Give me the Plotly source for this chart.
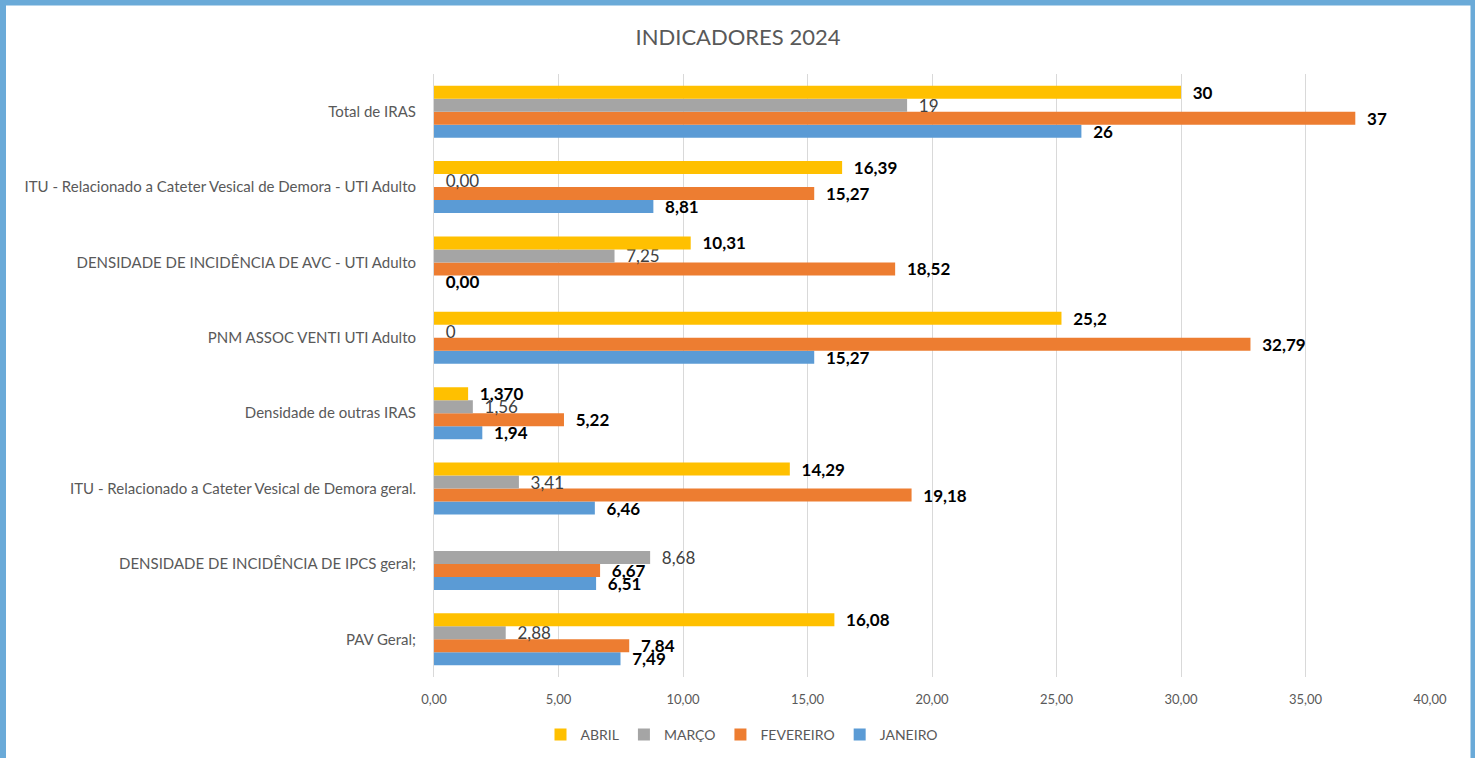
import plotly.graph_objects as go

categories = [
    "Total de IRAS",
    "ITU - Relacionado a Cateter Vesical de Demora - UTI Adulto",
    "DENSIDADE DE INCIDÊNCIA DE AVC - UTI Adulto",
    "PNM ASSOC VENTI UTI Adulto",
    "Densidade de outras IRAS",
    "ITU - Relacionado a Cateter Vesical de Demora geral.",
    "DENSIDADE DE INCIDÊNCIA DE IPCS geral;",
    "PAV Geral;",
]

abril = [30, 16.39, 10.31, 25.2, 1.370, 14.29, None, 16.08]
abril_lbl = ["30", "16,39", "10,31", "25,2", "1,370", "14,29", "", "16,08"]
marco = [19, 0.00, 7.25, 0, 1.56, 3.41, 8.68, 2.88]
marco_lbl = ["19", "0,00", "7,25", "0", "1,56", "3,41", "8,68", "2,88"]
fevereiro = [37, 15.27, 18.52, 32.79, 5.22, 19.18, 6.67, 7.84]
fevereiro_lbl = ["37", "15,27", "18,52", "32,79", "5,22", "19,18", "6,67", "7,84"]
janeiro = [26, 8.81, 0.00, 15.27, 1.94, 6.46, 6.51, 7.49]
janeiro_lbl = ["26", "8,81", "0,00", "15,27", "1,94", "6,46", "6,51", "7,49"]

W, H = 1475, 758
ML, MR, MT, MB = 434, 45, 74, 81
PW, PH = W - ML - MR, H - MT - MB

def px(x):
    return (x - ML) / PW

def py(y):
    return (H - MB - y) / PH

FONT = "Lato, Carlito, Calibri, sans-serif"
PAD = "\u00a0\u00a0"

series = [
    ("JANEIRO", janeiro, janeiro_lbl, "#5B9BD5", True),
    ("FEVEREIRO", fevereiro, fevereiro_lbl, "#ED7D31", True),
    ("MARÇO", marco, marco_lbl, "#A5A5A5", False),
    ("ABRIL", abril, abril_lbl, "#FFC000", True),
]

fig = go.Figure()
for name, vals, lbls, color, bold in series:
    fig.add_trace(go.Bar(
        name=name, y=categories, x=vals, orientation="h",
        marker=dict(color=color, line=dict(width=0)),
        text=[(PAD + (f"<b>{t}</b>" if bold else t)) if t else "" for t in lbls],
        textposition="outside", cliponaxis=False, constraintext="none",
        textfont=dict(family=FONT, size=17, color="#000000" if bold else "#404040"),
        hoverinfo="x+y",
    ))

fig.update_layout(
    width=W, height=H,
    margin=dict(l=ML, r=MR, t=MT, b=MB, autoexpand=False),
    barmode="group", bargap=0.31, bargroupgap=0,
    separators=",.",
    paper_bgcolor="white", plot_bgcolor="white",
    font=dict(family=FONT, color="#595959"),
    title=dict(text="INDICADORES 2024", x=738 / W, xref="container", y=1 - 37 / H,
               yref="container", yanchor="middle", xanchor="center",
               font=dict(size=22, color="#595959", family=FONT)),
    xaxis=dict(range=[0, 40], dtick=5, tickformat=".2f", showgrid=True, automargin=False,
               gridcolor="#D9D9D9", gridwidth=1, zeroline=False, showline=False,
               ticks="", tickfont=dict(size=13, color="#595959"), ticklabelstandoff=13),
    yaxis=dict(categoryorder="array", categoryarray=categories[::-1], automargin=False,
               showline=True, linecolor="#D9D9D9", linewidth=1, ticks="",
               tickfont=dict(size=15, color="#595959"), ticklabelstandoff=14),
    legend=dict(orientation="h", x=px(742), xanchor="center", y=py(735), yanchor="middle",
                traceorder="reversed", font=dict(size=14, color="#595959"),
                itemwidth=30, itemsizing="constant"),
    showlegend=True,
    shapes=[dict(type="rect", xref="paper", yref="paper",
                 x0=px(3), x1=px(1473.5), y0=py(780), y1=py(2.5),
                 line=dict(color="#6AAAD8", width=6), fillcolor="rgba(0,0,0,0)",
                 layer="above")],
)

fig.write_html("out.html", config={"displayModeBar": False},
               post_script="document.body.style.margin='0px';")
